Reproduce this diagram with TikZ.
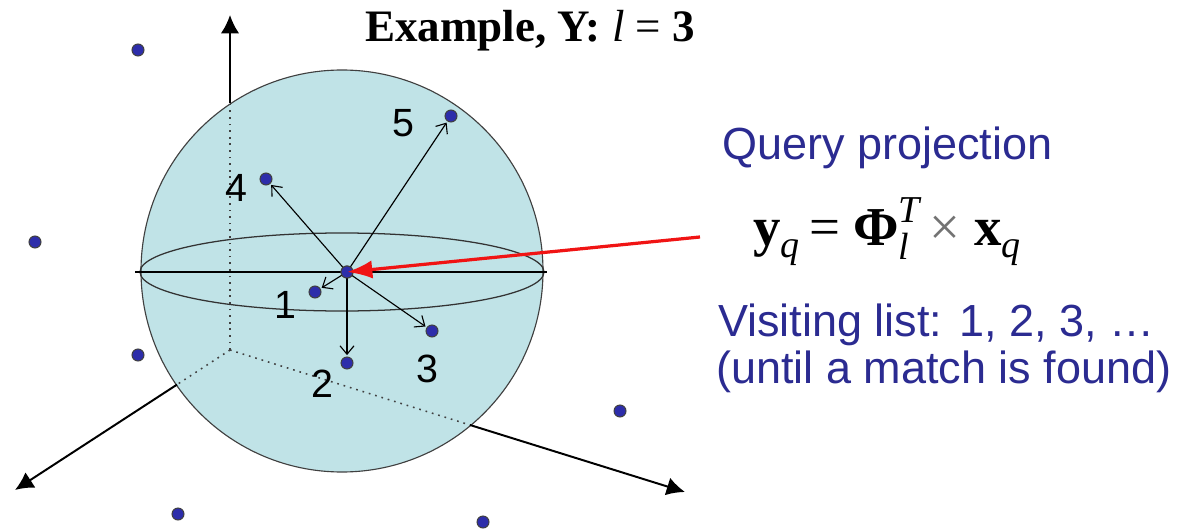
\documentclass[tikz,border=0pt]{standalone}
\usepackage{fontspec}
\setmainfont{Liberation Serif}
\newfontfamily\arial{Liberation Sans}
\usetikzlibrary{arrows.meta}
\definecolor{sph}{RGB}{192,227,231}
\definecolor{dotblue}{RGB}{45,45,170}
\definecolor{txtblue}{RGB}{43,43,145}
\definecolor{redline}{RGB}{240,20,20}
\begin{document}
\begin{tikzpicture}[x=0.025cm,y=-0.025cm,
  pt/.style={circle,fill=dotblue,draw=black!75,line width=0.7pt,inner sep=0pt,minimum size=0.3cm},
  axisarrow/.style={line width=1.4pt,-{Latex[length=13pt,width=13pt]}},
  visit/.style={line width=0.8pt,-{Straight Barb[length=6pt,width=10pt]},shorten >=1pt},
  innerdot/.style={line width=1.1pt,black!75,dash pattern=on 1.2pt off 3.5pt},
  lbl/.style={font=\arial\fontsize{28}{30}\selectfont,inner sep=0pt},
  bluetext/.style={font=\arial\fontsize{32}{34}\selectfont,text=txtblue,inner sep=0pt,anchor=west}]
\useasboundingbox (0,0) rectangle (1180,532);

% sphere
\fill[sph] (342,271) circle [radius=201];
\draw[black!75,line width=0.8pt] (342,271) circle [radius=201];
\draw[black!80,line width=0.9pt] (342,272) ellipse [x radius=202, y radius=39];
\coordinate (eqL) at (135,272);
\coordinate (eqR) at (547,272);
\draw[line width=1.1pt] (eqL) -- (eqR);

% axes
\coordinate (O) at (230,350);
\coordinate (vb) at (230,103);
\coordinate (vtip) at (230,15);
\coordinate (lb) at (177,384.6);
\coordinate (ltip) at (15,490);
\coordinate (rb) at (470,425);
\coordinate (rtip) at (685,492);
\draw[innerdot] (O) -- (vb);
\draw[innerdot] (O) -- (lb);
\draw[innerdot] (O) -- (rb);
\draw[axisarrow] (vb) -- (vtip);
\draw[axisarrow] (lb) -- (ltip);
\draw[axisarrow] (rb) -- (rtip);

% outside points
\node[pt] (o1) at (138,50) {};
\node[pt] (o2) at (35,242) {};
\node[pt] (o3) at (138,355) {};
\node[pt] (o4) at (178,514) {};
\node[pt] (o5) at (483,522) {};
\node[pt] (o6) at (620,411) {};

% query and visited points
\node[pt] (q) at (347,272) {};
\node[pt] (p1) at (315,292) {};
\node[pt] (p2) at (347,363) {};
\node[pt] (p3) at (432,331) {};
\node[pt] (p4) at (266,179) {};
\node[pt] (p5) at (451,116) {};
\draw[visit] (q.center) -- (p1);
\draw[visit] (q.center) -- (p2);
\draw[visit] (q.center) -- (p3);
\draw[visit] (q.center) -- (p4);
\draw[visit] (q.center) -- (p5);
\node[pt] at (q) {};

\node[lbl] (l1) at (285,305) {1};
\node[lbl] (l2) at (322,384) {2};
\node[lbl] (l3) at (427,369) {3};
\node[lbl] (l4) at (236,188) {4};
\node[lbl] (l5) at (403,123) {5};

% title
\node[font=\fontsize{32}{34}\selectfont\bfseries,inner sep=0pt] (title) at (530,31) {Example, Y: {\mdseries\itshape l} {\mdseries =} 3};

% right text
\node[bluetext] (qp) at (722,148) {Query projection};
\node[inner sep=0pt,font=\fontsize{39}{40}\selectfont] (formula) at (887,232)
  {\textbf{y}\raisebox{-9pt}{\fontsize{27}{27}\selectfont\itshape q}\hspace{7pt}=\hspace{9pt}\textbf{Φ}\rlap{\raisebox{16pt}{\fontsize{27}{27}\selectfont\itshape T}}\raisebox{-10pt}{\fontsize{27}{27}\selectfont\itshape l}\hspace{14pt}{\color{black!55}×}\hspace{10pt}\textbf{x}\raisebox{-9pt}{\fontsize{27}{27}\selectfont\itshape q}};
\node[bluetext] (vl1) at (718,325) {Visiting list: 1, 2, 3, …};
\node[bluetext] (vl2) at (716,372) {(until a match is found)};

% red arrow
\coordinate (rs) at (700,237);
\draw[redline,line width=2.3pt,-{Latex[length=18pt,width=13pt]}] (rs) -- (q.center);
\end{tikzpicture}
\end{document}
